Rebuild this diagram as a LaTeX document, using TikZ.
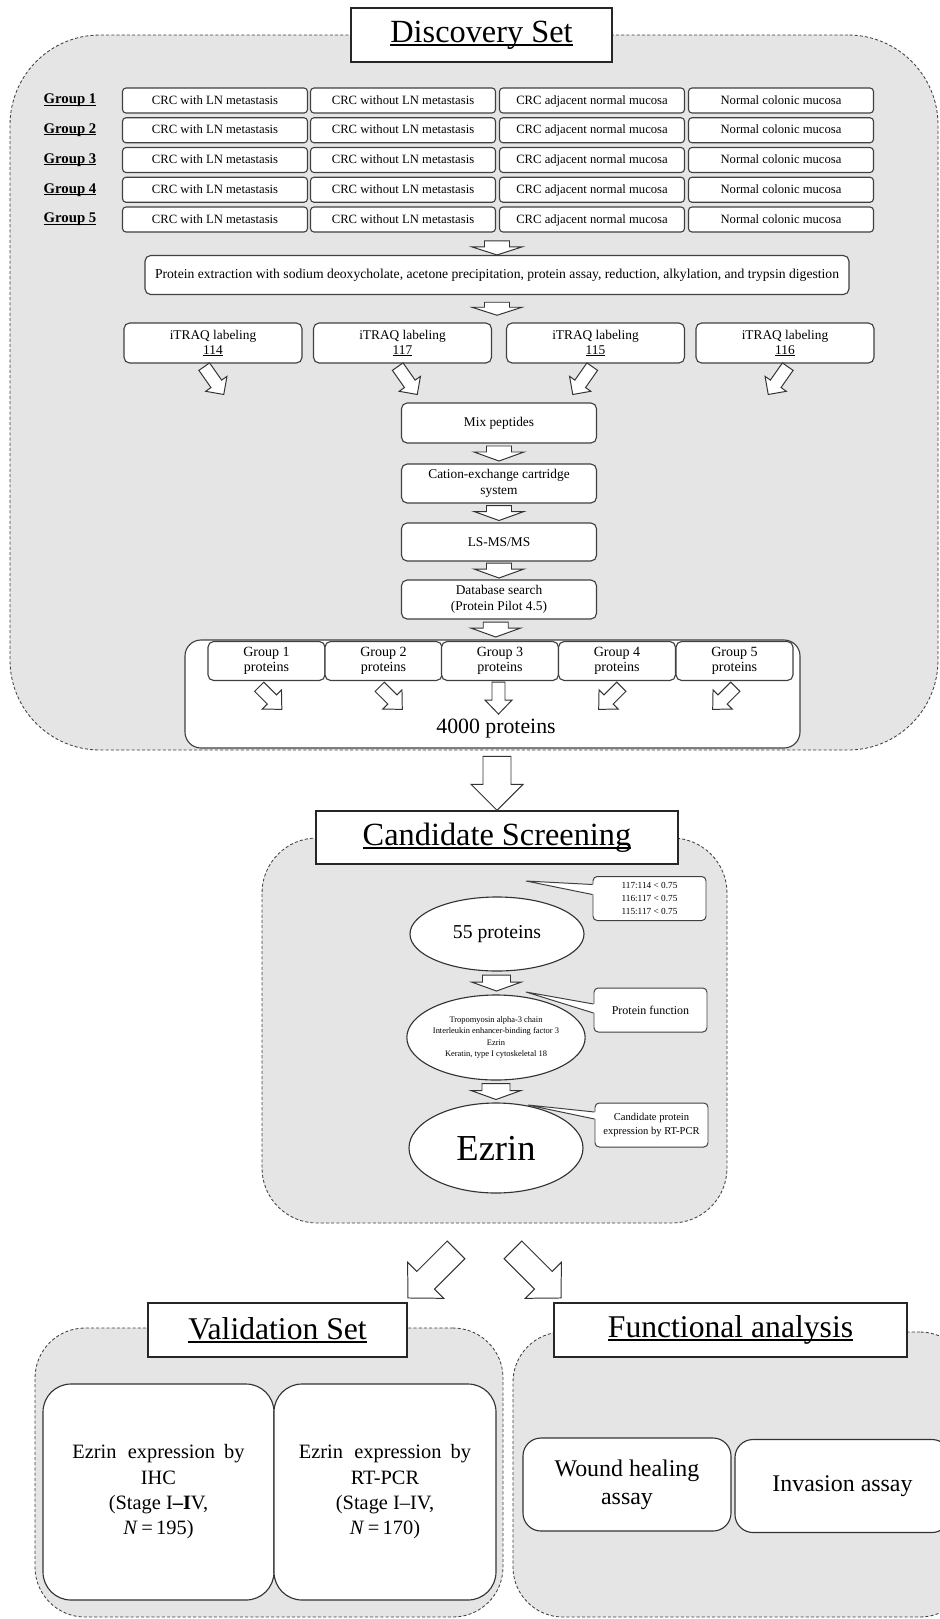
\documentclass[tikz,border=0pt]{standalone}
\usepackage{fontspec}
\setmainfont{Liberation Serif}
\usepackage{tikz}
\usetikzlibrary{shapes, calc, positioning}

\newcommand{\pxu}{0.025cm}
\newcommand{\fsz}[2]{\fontsize{#1}{#2}\selectfont}
% underline that crosses the descenders
\newsavebox{\undlbox}
\newcommand{\undl}[1]{\sbox{\undlbox}{#1}\rlap{\rule[-0.11em]{\wd\undlbox}{0.055em}}\usebox{\undlbox}}

\begin{document}
\begin{tikzpicture}[x=0.025cm, y=-0.025cm]

\tikzset{
  % dashed grey panels behind each stage
  panel/.style={draw=black!75, fill=black!10, line width=0.6pt,
    dash pattern=on 2.2pt off 1.5pt},
  % stage titles
  titlebox/.style={draw=black!85, fill=white, line width=1pt, inner sep=0pt,
    font=\fsz{23}{27}},
  cell/.style={draw=black!75, fill=white, line width=0.8pt, rounded corners=2.5pt,
    minimum width=185*\pxu, minimum height=25*\pxu, inner sep=0pt, font=\fsz{9}{10},
    text height=0.7em, text depth=0.2em},
  grouplab/.style={font=\fsz{10.5}{12}\bfseries},
  stepbox/.style={draw=black!75, fill=white, line width=0.8pt, rounded corners=4pt,
    align=center, inner sep=0pt, font=\fsz{9.5}{11}},
  bubble/.style={ellipse, draw=black!80, fill=white, line width=0.8pt,
    inner sep=0pt, align=center, minimum width=174*\pxu},
  note/.style={draw=black!75, fill=white, line width=0.7pt, rounded corners=3pt,
    align=center, inner sep=0pt, minimum width=113*\pxu, minimum height=44*\pxu},
  tail/.style={draw=black!75, line width=0.7pt},
  bigbox/.style={draw=black!80, fill=white, line width=0.8pt, rounded corners=0.7cm,
    align=center, inner sep=0pt, minimum height=216*\pxu, font=\fsz{14.5}{18}},
  assaybox/.style={draw=black!80, fill=white, line width=0.8pt, rounded corners=0.45cm,
    align=center, inner sep=0pt, minimum height=93*\pxu, font=\fsz{17}{20}},
  % hollow block arrow: length / half shaft / half head / head length
  pics/barrow/.style n args={4}{code={
    \draw[draw=black!80, fill=white, line width=0.7pt, line join=miter]
      (-#1/2,-#2) -- (#1/2-#4,-#2) -- (#1/2-#4,-#3) -- (#1/2,0)
      -- (#1/2-#4,#3) -- (#1/2-#4,#2) -- (-#1/2,#2) -- cycle;
  }},
}

\useasboundingbox (0,0) rectangle (940,1619);

% ---- discovery set
\node[panel, rounded corners=2.25cm, minimum width=928*\pxu, minimum height=715*\pxu] (discpanel) at (474,392.5) {};
\node[titlebox, minimum width=261*\pxu, minimum height=54*\pxu] (disc) at (481.5,35) {\undl{Discovery Set}};

\foreach \g/\y in {1/100.5, 2/130.25, 3/160, 4/189.75, 5/219.5}{
  \node[grouplab] (lab\g) at (70,\y) {\undl{Group \g}};
  \node[cell] (crc\g-1) at (215,\y) {CRC with LN metastasis};
  \node[cell] (crc\g-2) at (403,\y) {CRC without LN metastasis};
  \node[cell] (crc\g-3) at (592,\y) {CRC adjacent normal mucosa};
  \node[cell] (crc\g-4) at (781,\y) {Normal colonic mucosa};
}

\node[stepbox, minimum width=704*\pxu, minimum height=39*\pxu, font=\fsz{9.7}{11}] (extract) at (497,275)
  {Protein extraction with sodium deoxycholate, acetone precipitation, protein assay, reduction, alkylation, and trypsin digestion};

\foreach \i/\x/\n in {1/213/114, 2/402.5/117, 3/595.5/115, 4/785/116}
  \node[stepbox, minimum width=178*\pxu, minimum height=40*\pxu] (itraq\i) at (\x,343) {iTRAQ labeling\\\undl{\n}};

\node[stepbox, minimum width=195*\pxu, minimum height=40*\pxu] (mix) at (499,423) {Mix peptides};
\node[stepbox, minimum width=195*\pxu, minimum height=39*\pxu] (cation) at (499,483.5) {Cation-exchange cartridge\\system};
\node[stepbox, minimum width=195*\pxu, minimum height=38*\pxu] (lcms) at (499,542) {LS-MS/MS};
\node[stepbox, minimum width=195*\pxu, minimum height=39*\pxu] (dbsearch) at (499,599.5) {Database search\\(Protein Pilot 4.5)};

\node[draw=black!75, fill=white, line width=0.8pt, rounded corners=0.4cm,
  minimum width=615*\pxu, minimum height=108*\pxu] (pool) at (492.5,694) {};
\foreach \i/\x in {1/266.5, 2/383.5, 3/500, 4/617, 5/734.5}
  \node[stepbox, minimum width=117*\pxu, minimum height=39*\pxu, font=\fsz{10}{11}] (gp\i) at (\x,661) {Group \i\\proteins};
\node[font=\fsz{15.5}{18}] (pooltxt) at (496,729) {4000 proteins};

% arrows of the discovery stage
\pic[rotate=-90] at ($(extract.north)+(0,-7)$) {barrow={14}{12.5}{25}{8}};
\pic[rotate=-90] at ($(extract.south)!0.5!(extract.south |- itraq1.north)$) {barrow={13}{12.5}{25}{8}};
\foreach \i/\dx/\r in {1/1/-55, 2/5/-55, 3/-13/-125, 4/-7/-125}
  \pic[rotate=\r] at ($(itraq\i.south)+(\dx,17)$) {barrow={34}{6.5}{13}{13}};
\foreach \a/\b in {mix/cation, cation/lcms, lcms/dbsearch, dbsearch/pool}
  \pic[rotate=-90] at ($(\a.south)!0.5!(\b.north)$) {barrow={15}{12.5}{25}{9}};
\foreach \i/\dx/\r in {1/4/-45, 2/7.5/-45, 3/-1.5/-90, 4/-7/-135, 5/-10.5/-135}
  \pic[rotate=\r] at ($(gp\i.south)+(\dx,17)$) {barrow={32}{6.5}{13.5}{14}};

% ---- candidate screening
\node[panel, rounded corners=1.375cm, minimum width=465*\pxu, minimum height=385*\pxu] (candpanel) at (494.5,1030.5) {};
\node[titlebox, minimum width=362*\pxu, minimum height=53*\pxu] (cand) at (497,837.5) {\undl{Candidate Screening}};
\pic[rotate=-90] at ($(cand.north)+(0,-27)$) {barrow={54}{14}{26}{26}};

\node[bubble, minimum height=74*\pxu, font=\fsz{14}{16}] (prot55) at (497,934) {55 proteins};
\node[bubble, minimum height=85*\pxu, font=\fsz{6}{8}] (shortlist) at (496,1037.5)
  {Tropomyosin alpha-3 chain\\Interleukin enhancer-binding factor 3\\Ezrin\\Keratin, type I cytoskeletal 18};
\node[bubble, minimum height=90*\pxu, font=\fsz{26}{30}] (ezrin) at (496,1148) {Ezrin};
\foreach \a/\b in {prot55/shortlist, shortlist/ezrin}
  \pic[rotate=-90] at ($(\a.south)!0.5!(\b.north)$) {barrow={16}{14}{25}{9}};

\node[note, font=\fsz{6.6}{9}] (ratio) at (649.5,898.5) {117:114 < 0.75\\116:117 < 0.75\\115:117 < 0.75};
\node[note, font=\fsz{8.5}{10}] (pfunc) at (650.5,1010) {Protein function};
\node[note, font=\fsz{7.5}{9.5}] (rtnote) at (651.5,1125) {Candidate protein\\expression by RT-PCR};
\coordinate (ratiotip) at (526,881);
\coordinate (pfunctip) at (526,992);
\coordinate (rtnotetip) at (528,1105);
\foreach \n/\a/\b in {ratio/-14/-4, pfunc/-6/3, rtnote/-13/-6}{
  \fill[white] ($(\n.west)+(1.5,\a)$) -- (\n tip) -- ($(\n.west)+(1.5,\b)$) -- cycle;
  \draw[tail] ($(\n.west)+(0,\a)$) -- (\n tip) -- ($(\n.west)+(0,\b)$);
}

% ---- validation and functional analysis
\pic[rotate=-135] at ($(candpanel.south)+(-62.5,50.5)$) {barrow={68}{12.5}{25.5}{25}};
\pic[rotate=-45] at ($(candpanel.south)+(42.5,50.5)$) {barrow={68}{12.5}{25.5}{25}};

\node[panel, rounded corners=1.25cm, minimum width=468*\pxu, minimum height=289*\pxu] (valpanel) at (269,1472.5) {};
\node[panel, rounded corners=1.25cm, minimum width=457*\pxu, minimum height=285*\pxu] (fapanel) at (741.5,1474.5) {};
\node[titlebox, minimum width=259*\pxu, minimum height=54*\pxu, font=\fsz{22.5}{26}] (valtitle) at (277.5,1330) {\undl{Validation Set}};
\node[titlebox, minimum width=353*\pxu, minimum height=54*\pxu, font=\fsz{22.5}{26}] (fatitle) at (730.5,1330) {\undl{Functional analysis}};

\node[bigbox, minimum width=231*\pxu] (ihc) at (158.5,1492)
  {Ezrin\hspace{0.55em}expression\hspace{0.45em}by\\IHC\\(Stage I\textbf{--I}V,\\\textit{N}\,=\,195)};
\node[bigbox, minimum width=222*\pxu] (rtpcr) at (385,1492)
  {Ezrin\hspace{0.55em}expression\hspace{0.45em}by\\RT-PCR\\(Stage I--IV,\\\textit{N}\,=\,170)};
\node[assaybox, minimum width=208*\pxu] (wound) at (627,1484.5) {Wound healing\\assay};
\node[assaybox, minimum width=215*\pxu] (invasion) at (842.5,1486) {Invasion assay};

\end{tikzpicture}
\end{document}
